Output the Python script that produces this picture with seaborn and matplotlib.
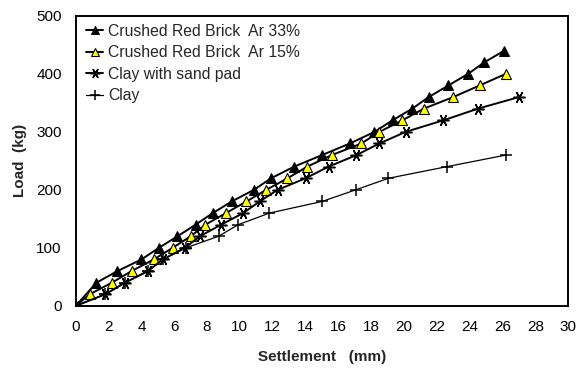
import matplotlib
matplotlib.use("Agg")
import matplotlib.pyplot as plt
import seaborn as sns
import pandas as pd

# Data
labels = ["Crushed Red Brick  Ar 33%", "Crushed Red Brick  Ar 15%",
          "Clay with sand pad", "Clay"]

s33_settle = [0, 1.26, 2.54, 4.0, 5.06, 6.2, 7.3, 8.35, 9.5, 10.85, 11.9,
              13.3, 15.0, 16.7, 18.2, 19.3, 20.5, 21.5, 22.7, 23.9, 24.9, 26.1]
s33_load = [0, 40, 60, 80, 100, 120, 140, 160, 180, 200, 220,
            240, 260, 280, 300, 320, 340, 360, 380, 400, 420, 440]

s15_settle = [0, 0.85, 2.2, 3.4, 4.75, 5.9, 7.0, 7.9, 9.15, 10.4, 11.6,
              12.9, 14.1, 15.6, 17.4, 18.5, 19.9, 21.2, 23.0, 24.6, 26.2]
s15_load = [0, 20, 40, 60, 80, 100, 120, 140, 160, 180, 200,
            220, 240, 260, 280, 300, 320, 340, 360, 380, 400]

sand_settle = [0, 1.8, 3.0, 4.4, 5.3, 6.65, 7.56, 8.86, 10.2, 11.2, 12.3,
               14.0, 15.4, 17.1, 18.5, 20.1, 22.4, 24.5, 27.0]
sand_load = [0, 20, 40, 60, 80, 100, 120, 140, 160, 180, 200,
             220, 240, 260, 280, 300, 320, 340, 360]

clay_settle = [0, 1.8, 3.0, 4.4, 5.3, 6.7, 8.7, 9.9, 11.8, 15.0, 17.05,
               19.05, 22.6, 26.2]
clay_load = [0, 20, 40, 60, 80, 100, 120, 140, 160, 180, 200,
             220, 240, 260]

x_ticks = list(range(0, 31, 2))
y_ticks = list(range(0, 501, 100))

sns.set_theme(style="white")
plt.rcParams["font.family"] = ["Liberation Sans", "DejaVu Sans"]

fig = plt.figure(figsize=(5.78, 3.69), dpi=100)
ax = fig.add_axes([0.131, 0.171, 0.852, 0.786])

series = [
    (s33_settle, s33_load, dict(marker="^", markerfacecolor="black",
                                markeredgecolor="black", markersize=7, linewidth=1.4)),
    (s15_settle, s15_load, dict(marker="^", markerfacecolor="#ffff00",
                                markeredgecolor="black", markersize=7,
                                markeredgewidth=0.8, linewidth=1.4)),
    (sand_settle, sand_load, dict(marker=(6, 2, 90), markerfacecolor="black",
                                  markeredgecolor="black", markersize=8.5,
                                  markeredgewidth=1.1, linewidth=1.4)),
    (clay_settle, clay_load, dict(marker="+", markeredgecolor="black",
                                  markersize=8.5, markeredgewidth=1.1, linewidth=0.9)),
]

for (xs, ys, kw), lab in zip(series, labels):
    df = pd.DataFrame({"Settlement": xs, "Load": ys})
    sns.lineplot(data=df, x="Settlement", y="Load", ax=ax, color="black",
                 sort=False, estimator=None, label=lab, **kw)

ax.set_xlim(0, 30)
ax.set_ylim(0, 500)
ax.set_xticks(x_ticks)
ax.set_yticks(y_ticks)
ax.tick_params(axis="both", direction="in", length=4, width=1, labelsize=11,
               colors="black")
ax.tick_params(axis="x", pad=10)
ax.tick_params(axis="y", pad=10)
for sp in ax.spines.values():
    sp.set_color("black")
    sp.set_linewidth(1.4)

ax.set_xlabel("Settlement   (mm)", fontsize=11, fontweight="bold", labelpad=12)
ax.set_ylabel("Load  (kg)", fontsize=11, fontweight="bold", labelpad=7)

leg = ax.legend(loc="upper left", frameon=False, fontsize=11.3,
                handlelength=1.1, handletextpad=0.3, labelspacing=0.42,
                borderaxespad=0.1, bbox_to_anchor=(0.005, 1.0), markerscale=0.85)

fig.savefig("out.png", dpi=100)
